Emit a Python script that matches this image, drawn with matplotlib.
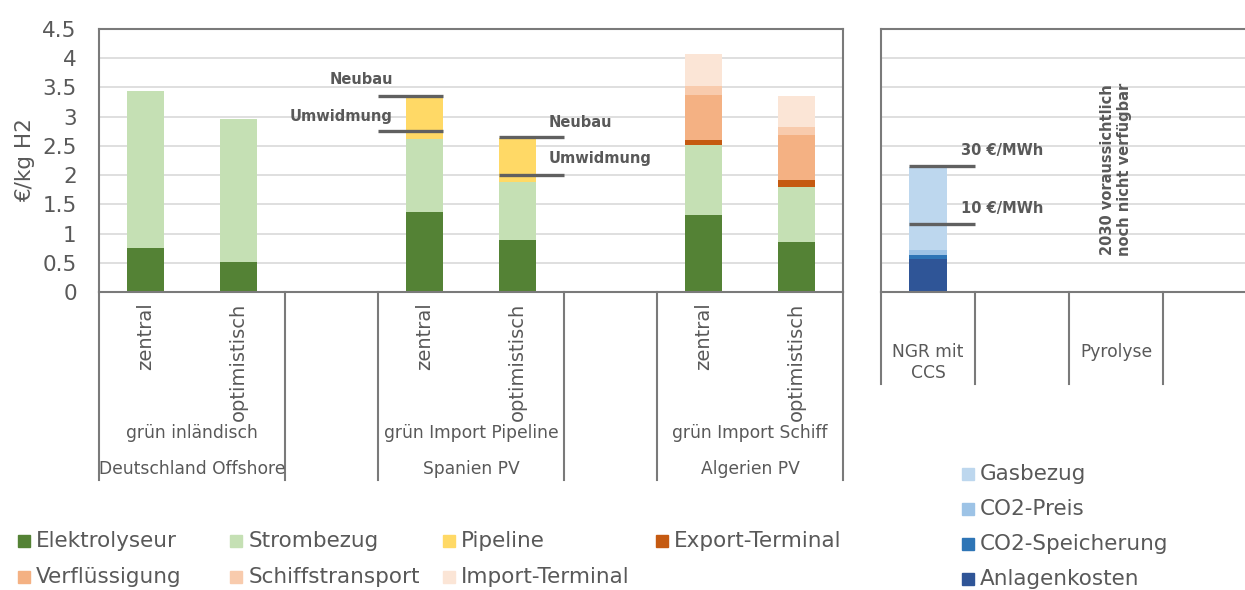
import matplotlib
matplotlib.use("Agg")
import matplotlib.pyplot as plt
from matplotlib.patches import Rectangle
from matplotlib.transforms import blended_transform_factory

# ---- data (€/kg H2) ----
bar_pos = [0, 1, 3, 4, 6, 7]
scenario = ["zentral", "optimistisch", "zentral", "optimistisch", "zentral", "optimistisch"]
group_mid = [0.5, 3.5, 6.5]
group_type = ["grün inländisch", "grün Import Pipeline", "grün Import Schiff"]
group_origin = ["Deutschland Offshore", "Spanien PV", "Algerien PV"]

elektrolyseur = [0.75, 0.51, 1.37, 0.89, 1.32, 0.86]
strombezug = [2.69, 2.45, 1.24, 1.00, 1.19, 0.94]
pipeline = [0, 0, 0.73, 0.74, 0, 0]
export_terminal = [0, 0, 0, 0, 0.09, 0.11]
verfluessigung = [0, 0, 0, 0, 0.77, 0.77]
schiffstransport = [0, 0, 0, 0, 0.16, 0.14]
import_terminal = [0, 0, 0, 0, 0.54, 0.54]

neubau = [3.35, 2.65]
umwidmung = [2.76, 2.00]

# blue / fossil part
blue_labels = ["NGR mit\nCCS", "", "Pyrolyse", ""]
anlagenkosten = [0.565]
co2_speicherung = [0.065]
co2_preis = [0.09]
gasbezug = [1.42]
gas_30 = 2.15
gas_10 = 1.16

green_series = [
    ("Elektrolyseur", elektrolyseur, "#548235"),
    ("Strombezug", strombezug, "#C5E0B4"),
    ("Pipeline", pipeline, "#FFD966"),
    ("Export-Terminal", export_terminal, "#C55A11"),
    ("Verflüssigung", verfluessigung, "#F4B183"),
    ("Schiffstransport", schiffstransport, "#F8CBAD"),
    ("Import-Terminal", import_terminal, "#FBE5D6"),
]
blue_series = [
    ("Anlagenkosten", anlagenkosten, "#2F5597"),
    ("CO2-Speicherung", co2_speicherung, "#2E75B6"),
    ("CO2-Preis", co2_preis, "#9DC3E6"),
    ("Gasbezug", gasbezug, "#BDD7EE"),
]

TXT = "#595959"
SPINE = "#7a7a7a"
plt.rcParams["font.family"] = ["DejaVu Sans"]

W, H = 1245, 590
fig = plt.figure(figsize=(W / 100, H / 100), dpi=100)

def px_axes(x0, y0, x1, y1):
    return fig.add_axes([x0 / W, 1 - y1 / H, (x1 - x0) / W, (y1 - y0) / H])

ax = px_axes(99, 29, 843, 292)
ax2 = px_axes(881, 29, 1257, 292)

for a in (ax, ax2):
    a.set_ylim(0, 4.5)
    a.set_yticks([i * 0.5 for i in range(10)])
    a.grid(axis="y", color="#D9D9D9", lw=1.2)
    a.set_axisbelow(True)
    for s in a.spines.values():
        s.set_color(SPINE)
        s.set_linewidth(1.5)
    a.set_xticks([])
    a.tick_params(axis="y", length=0, labelsize=15.5, labelcolor=TXT, pad=16)

ax.set_xlim(-0.5, 7.5)
ax2.set_xlim(-0.5, 3.5)
ax.set_yticklabels(["%g" % (i * 0.5) for i in range(10)])
ax2.set_yticklabels([])
ax.set_ylabel("€/kg H2", fontsize=15.5, color=TXT, labelpad=5)

bw = 0.4
bottom = [0.0] * len(bar_pos)
for name, vals, col in green_series:
    ax.bar(bar_pos, vals, bw, bottom=bottom, color=col, zorder=2)
    bottom = [b + v for b, v in zip(bottom, vals)]

b2 = [0.0]
for name, vals, col in blue_series:
    ax2.bar([0], vals, bw, bottom=b2, color=col, zorder=2)
    b2 = [b + v for b, v in zip(b2, vals)]

# pipeline range markers
lc = "#606060"
ax.hlines([neubau[0], umwidmung[0]], 2.5, 3.2, color=lc, lw=2.4, zorder=3)
ax.hlines([neubau[1], umwidmung[1]], 3.8, 4.5, color=lc, lw=2.4, zorder=3)
ax.text(2.66, neubau[0] + 0.28, "Neubau", ha="right", va="center", fontsize=10.5,
        fontweight="bold", color=TXT)
ax.text(2.66, umwidmung[0] + 0.24, "Umwidmung", ha="right", va="center", fontsize=10.5,
        fontweight="bold", color=TXT)
ax.text(4.33, neubau[1] + 0.25, "Neubau", ha="left", va="center", fontsize=10.5,
        fontweight="bold", color=TXT)
ax.text(4.33, umwidmung[1] + 0.28, "Umwidmung", ha="left", va="center", fontsize=10.5,
        fontweight="bold", color=TXT)

ax2.hlines([gas_30, gas_10], -0.2, 0.5, color=lc, lw=2.4, zorder=3)
ax2.text(0.35, gas_30 + 0.27, "30 €/MWh", ha="left", va="center", fontsize=10.5,
         fontweight="bold", color=TXT)
ax2.text(0.35, gas_10 + 0.27, "10 €/MWh", ha="left", va="center", fontsize=10.5,
         fontweight="bold", color=TXT)
ax2.text(2.0, 2.1, "2030 voraussichtlich\nnoch nicht verfügbar", rotation=90,
         ha="center", va="center", fontsize=10.5, fontweight="bold", color=TXT,
         linespacing=1.1)

# category axis (multi-level)
tr = blended_transform_factory(ax.transData, ax.transAxes)
for xs in [-0.5, 1.5, 2.5, 4.5, 5.5, 7.5]:
    ax.plot([xs, xs], [0, -0.715], color=SPINE, lw=1.5, transform=tr, clip_on=False)
for p, s in zip(bar_pos, scenario):
    ax.text(p, -0.04, s, rotation=90, ha="center", va="top", fontsize=14,
            color=TXT, transform=tr)
for m, t, o in zip(group_mid, group_type, group_origin):
    ax.text(m, -0.535, t, ha="center", va="center", fontsize=12.3, color=TXT, transform=tr)
    ax.text(m, -0.672, o, ha="center", va="center", fontsize=12.3, color=TXT, transform=tr)

tr2 = blended_transform_factory(ax2.transData, ax2.transAxes)
for xs in [-0.5, 0.5, 1.5, 2.5, 3.5]:
    ax2.plot([xs, xs], [0, -0.35], color=SPINE, lw=1.5, transform=tr2, clip_on=False)
for i, lab in enumerate(blue_labels):
    if lab:
        ax2.text(i, -0.268 if "\n" in lab else -0.228, lab, ha="center", va="center",
                 fontsize=12.3, color=TXT, transform=tr2, linespacing=1.25)

# legends
def legend_item(x, y, col, label):
    fig.add_artist(Rectangle(((x) / W, 1 - (y + 6) / H), 12 / W, 12 / H,
                             color=col, transform=fig.transFigure))
    fig.text((x + 18) / W, 1 - y / H, label, ha="left", va="center",
             fontsize=15.5, color=TXT)

for i, (name, vals, col) in enumerate(green_series):
    legend_item(18 + 212.5 * (i % 4), 541 + 36 * (i // 4), col, name)
for i, (name, vals, col) in enumerate(reversed(blue_series)):
    legend_item(962, 474 + 35 * i, col, name)

fig.savefig("out.png", dpi=100)
